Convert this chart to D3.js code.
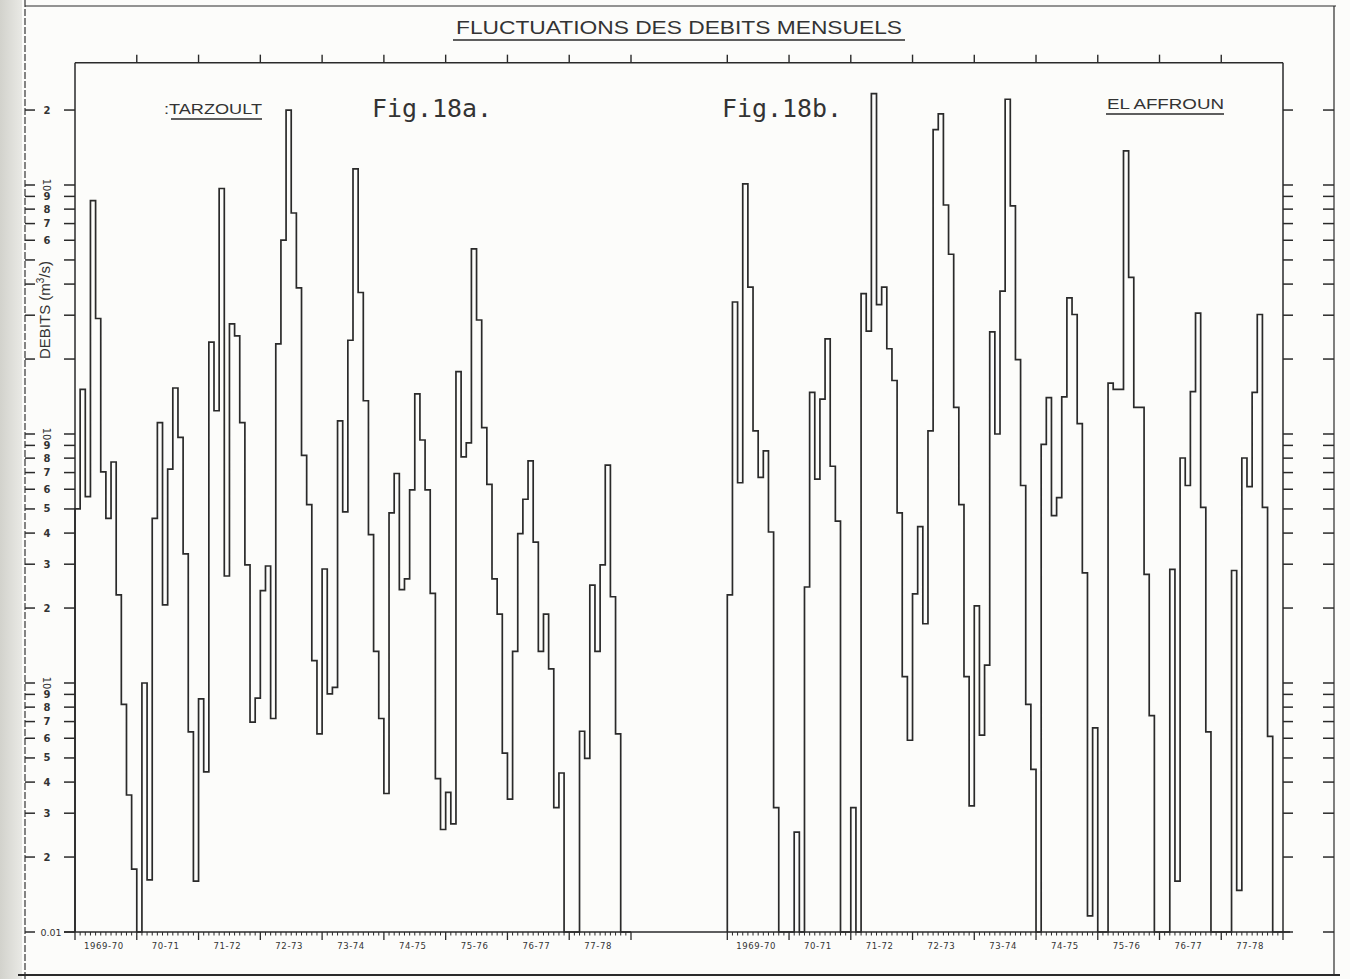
<!DOCTYPE html>
<html>
<head>
<meta charset="utf-8">
<script src="https://cdn.jsdelivr.net/npm/d3@7"></script>
<style>
  html, body { margin: 0; padding: 0; background: #fcfcfa; }
  svg { display: block; }
</style>
</head>
<body>
<svg id="chart" width="1350" height="979"></svg>
<script>
// Monthly mean discharge (m3/s), hydrological years Sep..Aug
const tarzoultFlow = [
  0.50, 1.51, 0.56, 8.65, 2.91, 0.705, 0.458, 0.772, 0.226, 0.082, 0.0355, 0.0179,   // 1969-70
  0.01, 0.10, 0.0162, 0.458, 1.11, 0.206, 0.723, 1.53, 0.97, 0.33, 0.0636, 0.016,    // 1970-71
  0.0863, 0.044, 2.34, 1.24, 9.68, 0.269, 2.77, 2.48, 1.11, 0.298, 0.0697, 0.087,    // 1971-72
  0.235, 0.295, 0.072, 2.30, 6.01, 20.0, 7.72, 3.86, 0.82, 0.52, 0.123, 0.0625,      // 1972-73
  0.287, 0.0905, 0.096, 1.13, 0.487, 2.38, 11.6, 3.70, 1.36, 0.394, 0.134, 0.072,    // 1973-74
  0.036, 0.482, 0.694, 0.237, 0.262, 0.596, 1.45, 0.946, 0.596, 0.229, 0.0413, 0.0258, // 1974-75
  0.0364, 0.0272, 1.78, 0.809, 0.922, 5.54, 2.87, 1.06, 0.628, 0.262, 0.189, 0.0523, // 1975-76
  0.0342, 0.134, 0.398, 0.547, 0.78, 0.368, 0.134, 0.189, 0.114, 0.0316, 0.0435, 0.01, // 1976-77
  0.01, 0.01, 0.064, 0.0498, 0.247, 0.134, 0.298, 0.75, 0.222, 0.0625, 0.01, 0.01    // 1977-78
];
const elAffrounFlow = [
  0.226, 3.39, 0.637, 10.1, 3.89, 1.03, 0.67, 0.855, 0.404, 0.0316, 0.01, 0.01,      // 1969-70
  0.01, 0.0252, 0.01, 0.243, 1.47, 0.659, 1.38, 2.41, 0.742, 0.447, 0.01, 0.01,      // 1970-71
  0.0316, 0.01, 3.66, 2.59, 23.3, 3.31, 3.89, 2.20, 1.64, 0.482, 0.106, 0.0589,      // 1971-72
  0.228, 0.425, 0.173, 1.03, 16.7, 19.3, 8.31, 5.27, 1.28, 0.52, 0.106, 0.0321,      // 1972-73
  0.204, 0.0618, 0.118, 2.57, 1.0, 3.75, 22.1, 8.24, 1.99, 0.621, 0.082, 0.045,      // 1973-74
  0.01, 0.908, 1.40, 0.47, 0.555, 1.41, 3.52, 3.02, 1.10, 0.277, 0.0116, 0.066,      // 1974-75
  0.01, 0.01, 1.60, 1.51, 1.51, 13.7, 4.26, 1.28, 1.28, 0.273, 0.074, 0.01,          // 1975-76
  0.01, 0.01, 0.286, 0.016, 0.801, 0.621, 1.48, 3.06, 0.507, 0.0636, 0.01, 0.01,     // 1976-77
  0.01, 0.01, 0.283, 0.0147, 0.801, 0.615, 1.47, 3.02, 0.507, 0.061, 0.01, 0.01      // 1977-78
];
const yearLabelsA = ["1969-70", "70-71", "71-72", "72-73", "73-74", "74-75", "75-76", "76-77", "77-78"];
const yearLabelsB = ["1969-70", "70-71", "71-72", "72-73", "73-74", "74-75", "75-76", "76-77", "77-78"];
const logTickValues = [0.01, 0.02, 0.03, 0.04, 0.05, 0.06, 0.07, 0.08, 0.09,
                       0.1, 0.2, 0.3, 0.4, 0.5, 0.6, 0.7, 0.8, 0.9,
                       1, 2, 3, 4, 5, 6, 7, 8, 9, 10, 20];
const labelledTicks = [0.01, 0.02, 0.03, 0.04, 0.05, 0.06, 0.07, 0.08, 0.09,
                       0.1, 0.2, 0.3, 0.4, 0.5, 0.6, 0.7, 0.8, 0.9,
                       1, 6, 7, 8, 9, 10, 20];

const svg = d3.select("#chart");
const ink = "#2a2a2a";
const MONTHS = 108;
const FLOOR = 0.01;
const TOP_VALUE = 31;

// scanner shadow on the left margin
const grad = svg.append("defs").append("linearGradient").attr("id", "edge");
grad.append("stop").attr("offset", "0%").attr("stop-color", "#d2d2cc");
grad.append("stop").attr("offset", "100%").attr("stop-color", "#e9e9e5");
svg.append("rect").attr("x", 0).attr("y", 0).attr("width", 22).attr("height", 979).attr("fill", "url(#edge)");

// log scale of discharge
const y = d3.scaleLog().domain([0.01, 10]).range([932, 185]);
const yTop = y(TOP_VALUE), yBottom = y(FLOOR);

const xA = d3.scaleLinear().domain([0, MONTHS]).range([75, 631]);
const xB = d3.scaleLinear().domain([0, MONTHS]).range([727.3, 1283]);
const plotLeft = xA(0), plotRight = xB(MONTHS);

// outer sheet frame
const frame = svg.append("g").attr("fill", "none").attr("stroke", ink);
frame.append("line").attr("x1", 25).attr("x2", 25).attr("y1", 0).attr("y2", 979)
  .attr("stroke-width", 1.3).attr("stroke-dasharray", "7 2").attr("stroke", "#444");
frame.append("line").attr("x1", 25).attr("x2", 1336).attr("y1", 6).attr("y2", 6).attr("stroke-width", 1.2);
frame.append("line").attr("x1", 1334).attr("x2", 1334).attr("y1", 6).attr("y2", 976).attr("stroke-width", 1.2);
frame.append("line").attr("x1", 18).attr("x2", 1340).attr("y1", 975).attr("y2", 975).attr("stroke-width", 2.2);

// plot box
frame.append("line").attr("x1", plotLeft).attr("x2", plotRight).attr("y1", yTop).attr("y2", yTop).attr("stroke-width", 1.5);
frame.append("line").attr("x1", plotLeft).attr("x2", plotLeft).attr("y1", yTop).attr("y2", yBottom).attr("stroke-width", 1.5);
frame.append("line").attr("x1", plotRight).attr("x2", plotRight).attr("y1", yTop).attr("y2", yBottom).attr("stroke-width", 1.5);
frame.append("line").attr("x1", 64).attr("x2", 1290).attr("y1", yBottom).attr("y2", yBottom).attr("stroke-width", 1.6);

// log ticks on both sides (plot edges and outer lines)
const ticks = svg.append("g").attr("stroke", ink).attr("stroke-width", 1.5);
function tickSet(x1, x2) {
  ticks.selectAll(null).data(logTickValues).enter().append("line")
    .attr("x1", x1).attr("x2", x2).attr("y1", d => y(d)).attr("y2", d => y(d));
}
tickSet(64, plotLeft);
tickSet(25, 35);
tickSet(plotRight, plotRight + 10);
tickSet(1323, 1334);

// tick labels
const lab = svg.append("g").attr("font-family", "DejaVu Sans, sans-serif").attr("fill", "#333");
labelledTicks.forEach(v => {
  const yy = y(v);
  const exp = Math.log10(v);
  if (v === FLOOR) {
    lab.append("text").attr("x", 51).attr("y", yy + 3.5).attr("text-anchor", "middle")
      .attr("font-size", 9.5).text("0.01");
  } else if (Math.abs(exp - Math.round(exp)) < 1e-9) {
    lab.append("text").attr("transform", `translate(46,${yy}) rotate(90)`)
      .attr("text-anchor", "middle").attr("dy", "0.35em").attr("font-size", 10).text("10");
  } else {
    const digit = Math.round(v / Math.pow(10, Math.floor(exp + 1e-9)));
    lab.append("text").attr("x", 47).attr("y", yy + 3.5).attr("text-anchor", "middle")
      .attr("font-size", 10).attr("font-weight", "bold").text(String(digit));
  }
});

// axis title
const axisTitle = lab.append("text")
  .attr("transform", `translate(50,310) rotate(-90)`)
  .attr("text-anchor", "middle").attr("font-size", 15).attr("font-family", "Liberation Sans, Arial, sans-serif");
axisTitle.append("tspan").text("DEBITS (m");
axisTitle.append("tspan").attr("font-size", 10).attr("dy", -6).text("3");
axisTitle.append("tspan").attr("dy", 6).text("/s)");

// time axes for both panels
function timeAxis(x, labels) {
  const g = svg.append("g");
  const months = d3.range(0, MONTHS + 1);
  g.selectAll(null).data(months).enter().append("line")
    .attr("x1", d => x(d)).attr("x2", d => x(d))
    .attr("y1", yBottom).attr("y2", d => yBottom + (d % 12 === 0 ? 8 : 3.5))
    .attr("stroke", ink).attr("stroke-width", d => d % 12 === 0 ? 1.3 : 1);
  // year marks along the top edge
  const years = d3.range(0, 10).map(k => k * 12);
  g.selectAll(null).data(years.filter(d => d > 0 || x === xB).filter(d => d < MONTHS || x === xA)).enter().append("line")
    .attr("x1", d => x(d)).attr("x2", d => x(d))
    .attr("y1", yTop).attr("y2", yTop - 8)
    .attr("stroke", ink).attr("stroke-width", 1.4);
  g.selectAll(null).data(labels).enter().append("text")
    .attr("x", (d, i) => x(i * 12 + 6) - 2)
    .attr("y", yBottom + 17)
    .attr("text-anchor", "middle")
    .attr("font-family", "DejaVu Sans, sans-serif")
    .attr("font-size", 8.5).attr("fill", "#333")
    .attr("letter-spacing", 0.6)
    .text(d => d);
}
timeAxis(xA, yearLabelsA);
timeAxis(xB, yearLabelsB);

// monthly step traces
function stepTrace(x, values) {
  const pts = [[0, FLOOR]];
  values.forEach((v, i) => pts.push([i, Math.max(FLOOR, v)]));
  pts.push([MONTHS, Math.max(FLOOR, values[values.length - 1])]);
  pts.push([MONTHS, FLOOR]);
  const line = d3.line().x(d => x(d[0])).y(d => y(d[1])).curve(d3.curveStepAfter);
  svg.append("path").attr("d", line(pts))
    .attr("fill", "none").attr("stroke", ink).attr("stroke-width", 1.7)
    .attr("stroke-linejoin", "miter");
}
stepTrace(xA, tarzoultFlow);
stepTrace(xB, elAffrounFlow);

// headings
const head = svg.append("g").attr("fill", "#333");
head.append("text").attr("x", 456).attr("y", 34)
  .attr("font-family", "Liberation Sans, Arial, sans-serif").attr("font-size", 19)
  .attr("textLength", 446).attr("lengthAdjust", "spacingAndGlyphs")
  .text("FLUCTUATIONS  DES  DEBITS   MENSUELS");
head.append("line").attr("x1", 453).attr("x2", 905).attr("y1", 40).attr("y2", 40)
  .attr("stroke", ink).attr("stroke-width", 1.5);

head.append("text").attr("x", 164).attr("y", 114)
  .attr("font-family", "Liberation Sans, Arial, sans-serif").attr("font-size", 15)
  .attr("textLength", 98).attr("lengthAdjust", "spacingAndGlyphs").text(":TARZOULT");
head.append("line").attr("x1", 171).attr("x2", 262).attr("y1", 119).attr("y2", 119)
  .attr("stroke", ink).attr("stroke-width", 1.5);

head.append("text").attr("x", 1107).attr("y", 109)
  .attr("font-family", "Liberation Sans, Arial, sans-serif").attr("font-size", 14)
  .attr("textLength", 117).attr("lengthAdjust", "spacingAndGlyphs").text("EL AFFROUN");
head.append("line").attr("x1", 1106).attr("x2", 1224).attr("y1", 114).attr("y2", 114)
  .attr("stroke", ink).attr("stroke-width", 1.5);

head.append("text").attr("x", 372).attr("y", 117)
  .attr("font-family", "DejaVu Sans Mono, monospace").attr("font-size", 24)
  .attr("textLength", 120).attr("lengthAdjust", "spacingAndGlyphs").text("Fig.18a.");
head.append("text").attr("x", 722).attr("y", 117)
  .attr("font-family", "DejaVu Sans Mono, monospace").attr("font-size", 24)
  .attr("textLength", 120).attr("lengthAdjust", "spacingAndGlyphs").text("Fig.18b.");
</script>
</body>
</html>
